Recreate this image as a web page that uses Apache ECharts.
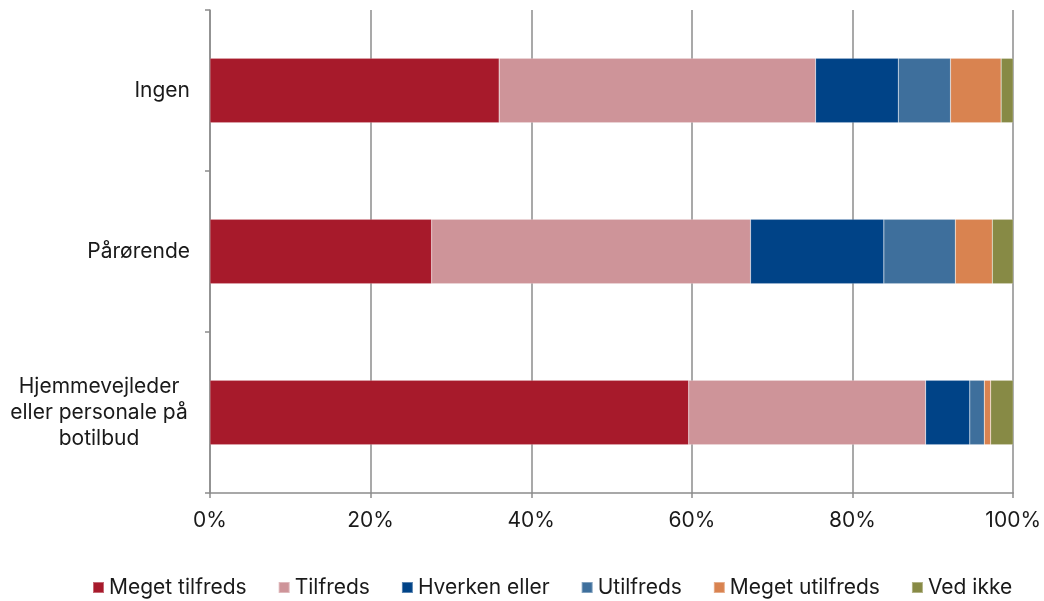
<!DOCTYPE html>
<html>
<head>
<meta charset="utf-8">
<script src="https://cdn.jsdelivr.net/npm/echarts@6/dist/echarts.min.js"></script>
<style>
  html, body { margin: 0; padding: 0; background: #fff; }
  #chart { width: 1044px; height: 601px; }
</style>
</head>
<body>
<div id="chart"></div>
<script>
// -- data --
let categories = ['Ingen', 'Pårørende', 'Hjemmevejleder eller personale på botilbud'];
let seriesNames = ['Meget tilfreds', 'Tilfreds', 'Hverken eller', 'Utilfreds', 'Meget utilfreds', 'Ved ikke'];
let megetTilfreds = [36.0, 27.6, 59.6];
let tilfreds = [39.4, 39.7, 29.5];
let hverkenEller = [10.3, 16.6, 5.5];
let utilfreds = [6.5, 8.9, 1.8];
let megetUtilfreds = [6.3, 4.6, 0.8];
let vedIkke = [1.5, 2.6, 2.8];
let tickLabels = ['0%', '20%', '40%', '60%', '80%', '100%'];

let colors = ['#A71A2B', '#CE9499', '#004387', '#3E6F9C', '#D98350', '#878A45'];
let values = [megetTilfreds, tilfreds, hverkenEller, utilfreds, megetUtilfreds, vedIkke];
let axisGrey = '#8c8c8c';
let font = 'Inter, "Noto Sans", sans-serif';

let series = seriesNames.map(function (name, i) {
  return {
    name: name,
    type: 'bar',
    stack: 'total',
    barCategoryGap: '60%',
    itemStyle: {color: colors[i], borderColor: 'rgba(255,255,255,0.35)', borderWidth: 0.5},
    data: values[i]
  };
});

let option = {
  animation: false,
  color: colors,
  textStyle: {fontFamily: font},
  grid: {left: 210, right: 29, top: 10, bottom: 108, containLabel: false},
  legend: {
    top: 572,
    left: 87,
    icon: 'rect',
    itemWidth: 11,
    itemHeight: 11,
    itemGap: 31,
    textStyle: {fontSize: 21, color: '#1a1a1a', fontFamily: font},
    data: seriesNames
  },
  xAxis: {
    type: 'value',
    min: 0,
    max: 100,
    interval: 20,
    axisLine: {show: true, lineStyle: {color: axisGrey, width: 1.5}},
    axisTick: {show: true, length: 5, lineStyle: {color: axisGrey, width: 1.5}},
    splitLine: {show: true, lineStyle: {color: axisGrey, width: 1.5}},
    axisLabel: {
      fontSize: 21,
      color: '#1a1a1a',
      margin: 17,
      formatter: function (v) {
        return tickLabels[Math.round(v / 20)];
      }
    }
  },
  yAxis: {
    type: 'category',
    inverse: true,
    data: categories,
    axisLine: {show: true, lineStyle: {color: axisGrey, width: 1.5}},
    axisTick: {show: true, length: 5, lineStyle: {color: axisGrey, width: 1.5}},
    axisLabel: {
      fontSize: 21,
      color: '#1a1a1a',
      margin: 20,
      lineHeight: 26,
      formatter: function (v) {
        if (v.indexOf('Hjemmevejleder') === 0) {
          return '{c|Hjemmevejleder}\n{c|eller personale på}\n{c|botilbud}';
        }
        return v;
      },
      rich: {
        c: {width: 182, align: 'center', fontSize: 21, lineHeight: 26, color: '#1a1a1a', fontFamily: font}
      }
    }
  },
  series: series
};

let myChart = echarts.init(document.getElementById('chart'));
myChart.setOption(option);
</script>
</body>
</html>
